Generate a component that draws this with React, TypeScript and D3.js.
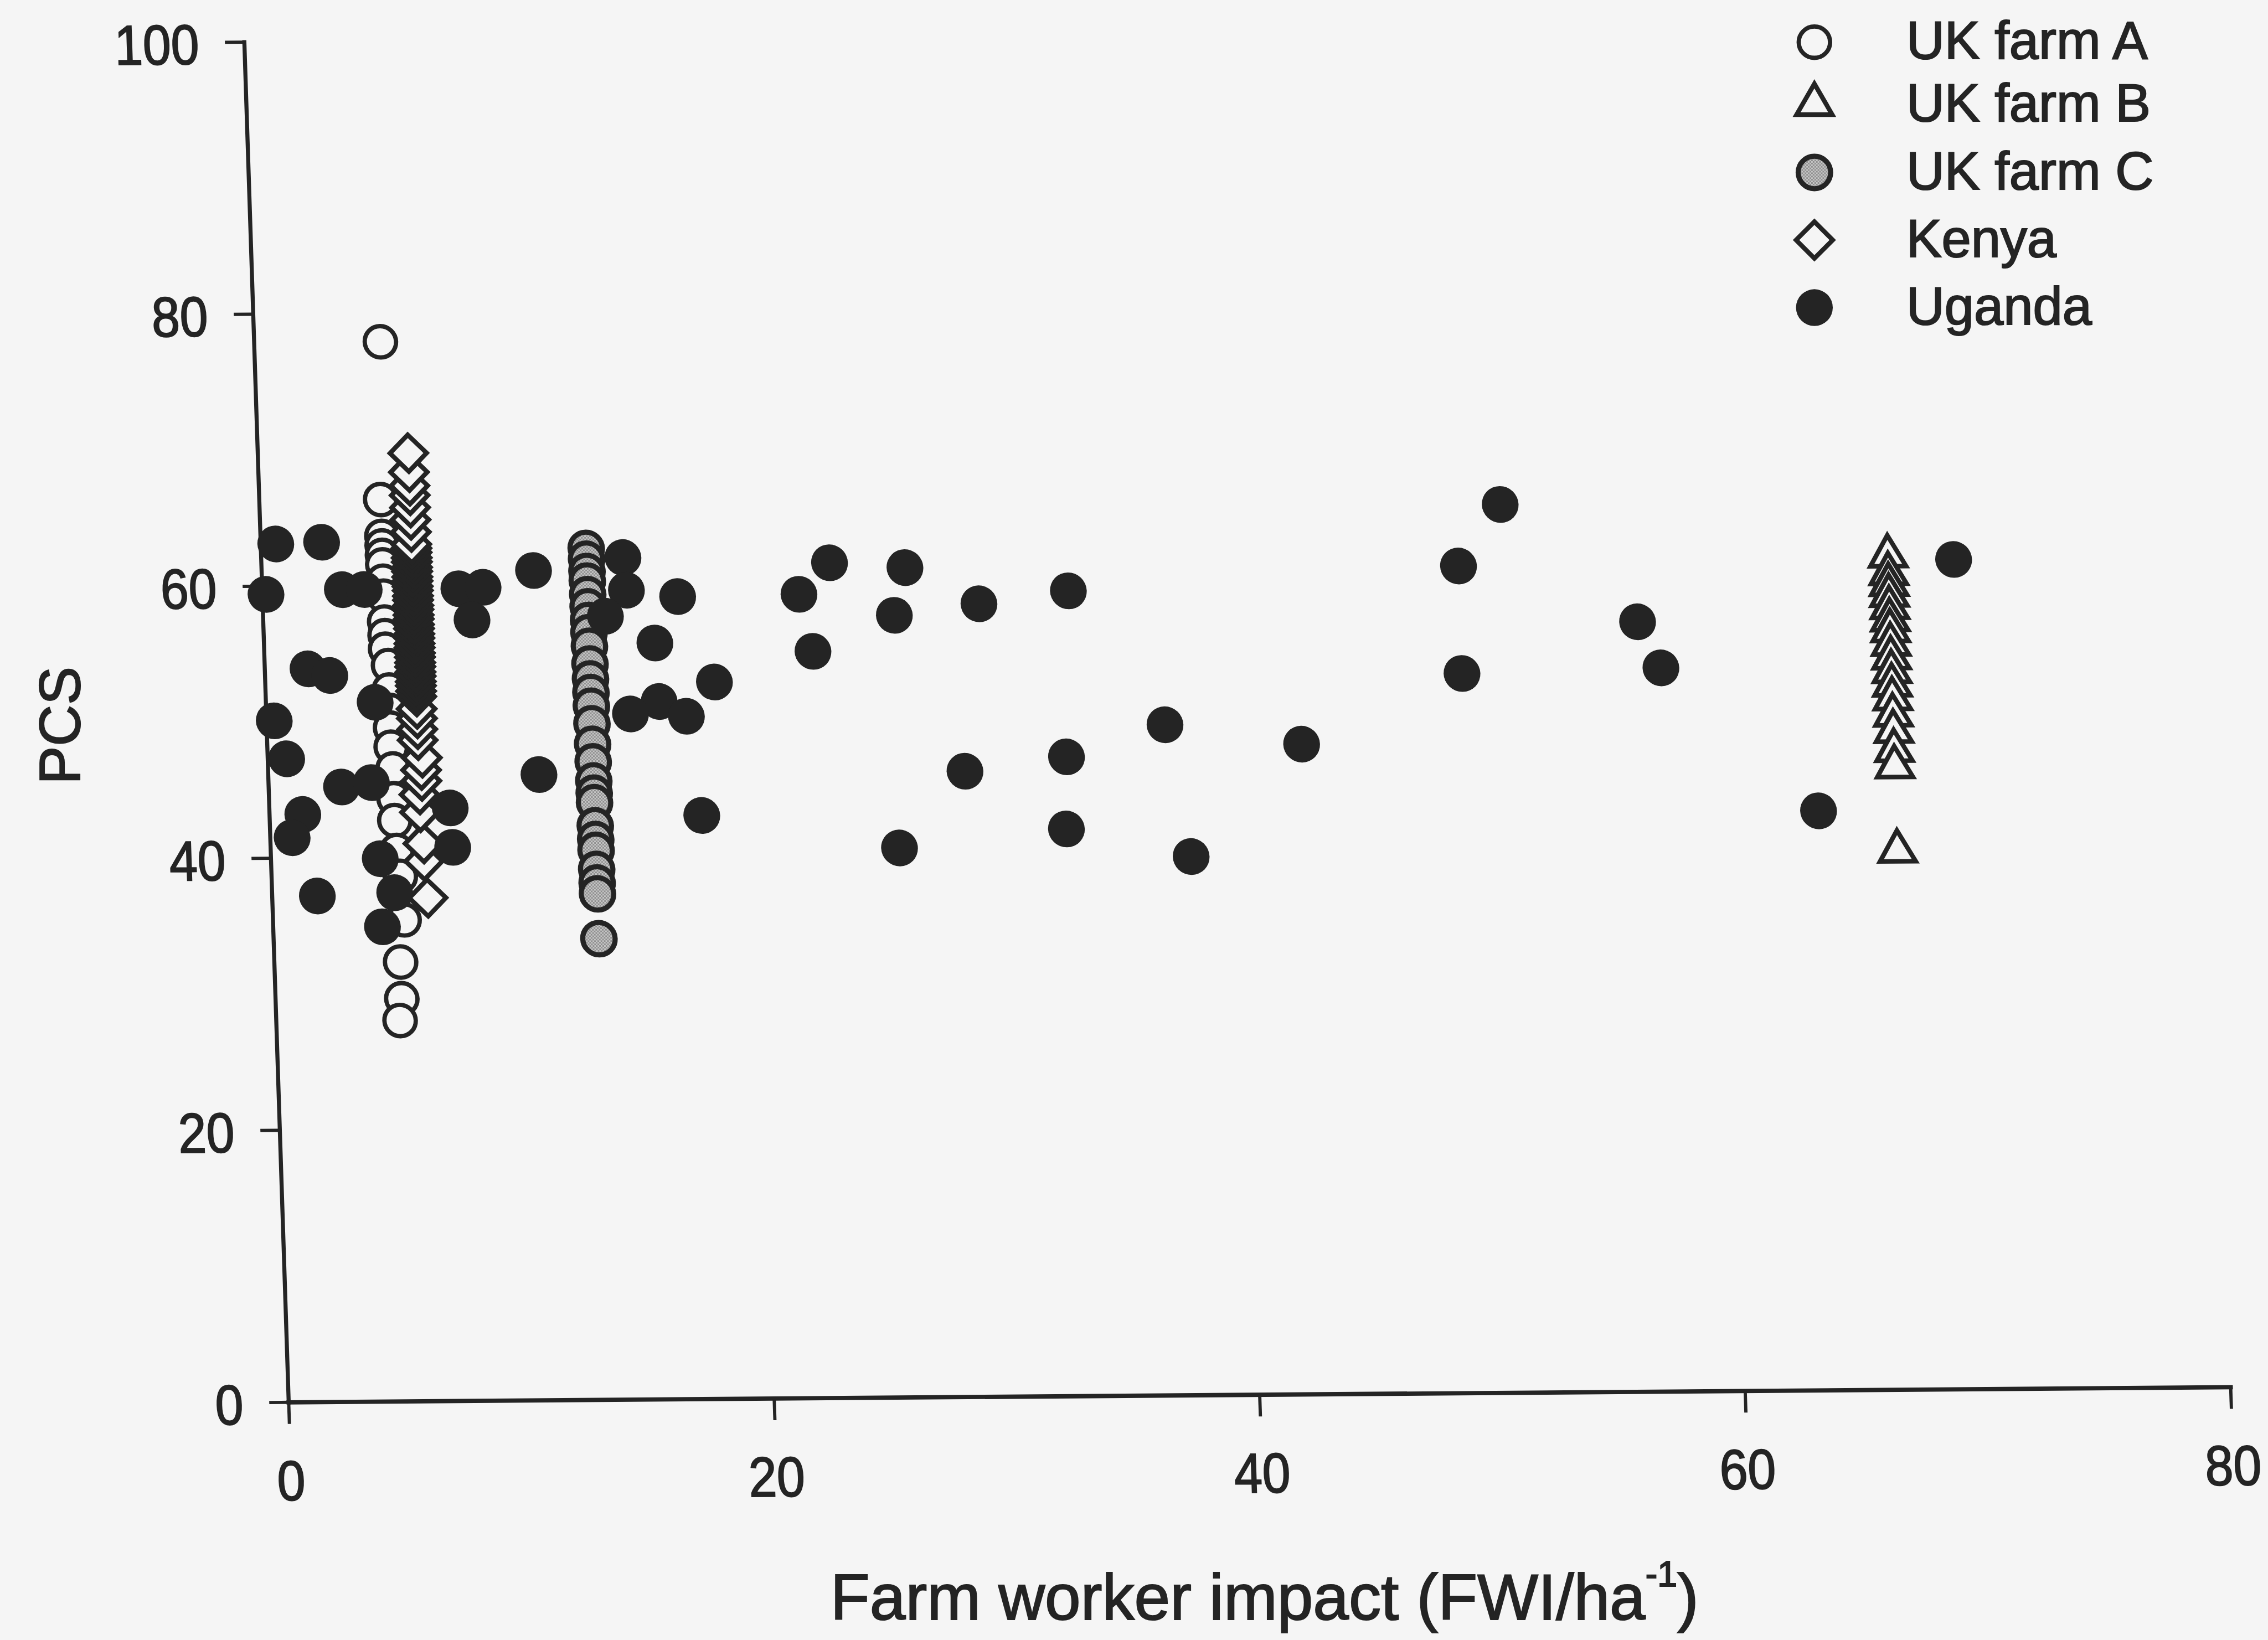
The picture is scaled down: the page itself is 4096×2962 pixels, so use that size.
import React from "react";
import * as d3 from "d3";

// PCS score against farm worker impact, one array per survey group: [FWI/ha, PCS]
const ukFarmA: [number, number][] = [
  [5.2, 77.9], [5.0, 66.3], [5.0, 63.6], [5.0, 62.9], [5.0, 62.2], [5.0, 61.5],
  [5.0, 60.3], [5.0, 59.2], [5.0, 57.3], [5.0, 56.3], [5.0, 55.3], [5.1, 54.1],
  [5.1, 52.3], [5.1, 50.8], [5.1, 49.5], [5.1, 48.1], [5.15, 46.5], [5.15, 44.3],
  [5.15, 42.7], [5.2, 40.5], [5.3, 38.6], [5.4, 35.4], [5.2, 32.3], [5.2, 29.6],
  [5.1, 28.0],
];

const ukFarmB: [number, number][] = [
  [67.0, 61.3], [67.0, 60.0], [67.0, 59.2], [67.0, 58.4], [67.0, 57.5], [67.0, 56.6],
  [67.0, 55.8], [67.0, 54.8], [67.0, 53.8], [67.0, 52.8], [67.0, 51.8], [67.0, 50.8],
  [67.0, 49.6], [67.0, 48.4], [67.0, 47.0], [67.0, 45.8], [67.0, 39.6],
];

const ukFarmC: [number, number][] = [
  [13.4, 62.6], [13.4, 61.8], [13.4, 60.9], [13.4, 60.2], [13.4, 59.2], [13.4, 58.3],
  [13.4, 57.3], [13.4, 56.4], [13.4, 55.4], [13.4, 54.1], [13.4, 53.0], [13.4, 52.0],
  [13.4, 51.0], [13.4, 49.7], [13.4, 48.2], [13.4, 46.9], [13.4, 45.5], [13.4, 44.6],
  [13.4, 43.9], [13.4, 42.2], [13.4, 41.2], [13.4, 40.4], [13.4, 39.0], [13.4, 38.0],
  [13.4, 37.2], [13.4, 33.9],
];

const kenya: [number, number][] = [
  [6.4, 37.0], [6.3, 39.7], [6.3, 41.0], [6.2, 43.3], [6.2, 44.6], [6.3, 45.6],
  [6.3, 46.4], [6.35, 47.3], [6.2, 48.6], [6.2, 49.4], [6.2, 50.2], [6.2, 50.9],
  [6.2, 51.8], [6.2, 52.2], [6.2, 52.6], [6.2, 52.9], [6.2, 53.3], [6.2, 53.6],
  [6.2, 54.0], [6.2, 54.3], [6.2, 54.7], [6.2, 55.0], [6.2, 55.4], [6.2, 55.7],
  [6.2, 56.1], [6.2, 56.4], [6.2, 56.8], [6.2, 57.1], [6.2, 57.5], [6.2, 57.8],
  [6.2, 58.2], [6.2, 58.5], [6.2, 58.9], [6.2, 59.2], [6.2, 59.6], [6.2, 59.9],
  [6.2, 60.3], [6.2, 60.6], [6.2, 61.0], [6.2, 61.3], [6.2, 61.7], [6.2, 62.0],
  [6.2, 62.4], [6.2, 62.7], [6.2, 63.0], [6.2, 63.9], [6.2, 64.8], [6.2, 65.7],
  [6.2, 66.6], [6.2, 67.3], [6.2, 68.3], [6.2, 69.7],
];

const uganda: [number, number][] = [
  [0.15, 59.4], [0.62, 63.1], [2.51, 63.2], [0.32, 50.1], [0.78, 47.3], [1.78, 53.9],
  [2.67, 53.4], [1.37, 43.2], [0.9, 41.5], [1.86, 37.2], [3.0, 45.2], [3.3, 59.7],
  [4.2, 59.7], [4.5, 51.4], [4.24, 45.5], [4.5, 39.9], [5.05, 37.4], [4.5, 34.9],
  [8.1, 59.7], [9.1, 59.8], [8.6, 57.4], [7.45, 43.6], [7.5, 40.7],
  [11.2, 61.0], [11.15, 46.0], [14.9, 61.9], [15.0, 59.5], [14.1, 57.6], [17.1, 59.0],
  [16.1, 55.6], [18.5, 52.7], [16.2, 51.3], [15.0, 50.4], [17.3, 50.2], [17.8, 42.9],
  [23.4, 61.4], [22.1, 59.1], [26.5, 61.0], [26.0, 57.5], [29.5, 58.3], [33.2, 59.2],
  [22.6, 54.9], [37.0, 49.3], [32.9, 47.0], [28.7, 46.0], [42.6, 47.8], [25.9, 40.4],
  [32.8, 41.7], [37.9, 39.6], [51.1, 65.3], [49.3, 60.8], [49.3, 52.9], [56.6, 56.6],
  [57.5, 53.2], [69.7, 61.0], [63.8, 42.6],
];

const legendLabels = ["UK farm A", "UK farm B", "UK farm C", "Kenya", "Uganda"];
const xTicks = [0, 20, 40, 60, 80];
const yTicks = [0, 20, 40, 60, 80, 100];

const INK = "#242424";
const PAPER = "#f5f5f5";
const FONT = "'Liberation Sans', Arial, Helvetica, sans-serif";

const symFilled = d3.symbol(d3.symbolCircle, Math.PI * 34 * 34)() as string;
const symOpen = d3.symbol(d3.symbolCircle, Math.PI * 29 * 29)() as string;
const symGrey = d3.symbol(d3.symbolCircle, Math.PI * 30 * 30)() as string;
const symTriangle = d3.symbol(d3.symbolTriangle, 1880)() as string;
const symDiamond = d3.symbol(d3.symbolSquare, 2300)() as string;

type MarkKind = "A" | "B" | "C" | "K" | "U";

function Mark({ kind, x, y }: { kind: MarkKind; x: number; y: number }) {
  const t = `translate(${x},${y})`;
  switch (kind) {
    case "A":
      return <path d={symOpen} transform={t} fill={PAPER} stroke={INK} strokeWidth={8} />;
    case "B":
      return <path d={symTriangle} transform={t} fill={PAPER} stroke={INK} strokeWidth={8.5} strokeLinejoin="miter" />;
    case "C":
      return <path d={symGrey} transform={t} fill="url(#hatch)" stroke={INK} strokeWidth={9.5} />;
    case "K":
      return <path d={symDiamond} transform={`${t} rotate(45)`} fill={PAPER} stroke={INK} strokeWidth={8.5} />;
    default:
      return <path d={symFilled} transform={t} fill={INK} />;
  }
}

const textInk = { fill: INK, stroke: INK, strokeWidth: 2.2, fontFamily: FONT } as const;

export default function App() {
  // plot frame: origin at (FWI 0, PCS 0); the printed axes lean slightly
  const x = d3.scaleLinear().domain([0, 80]).range([0, 3592]);
  const y = d3.scaleLinear().domain([0, 100]).range([0, -2516]);
  const frame = "matrix(1,-0.0078,0.0326,1,534,2594)";

  const series: { kind: MarkKind; data: [number, number][] }[] = [
    { kind: "C", data: ukFarmC },
    { kind: "A", data: ukFarmA },
    { kind: "K", data: kenya },
    { kind: "B", data: ukFarmB },
    { kind: "U", data: uganda },
  ];

  const legendKinds: MarkKind[] = ["A", "B", "C", "K", "U"];
  const legendY = [78, 193, 319, 444, 569];

  return (
    <svg
      width={4096}
      height={2962}
      style={{ position: "absolute", left: 0, top: 0, display: "block" }}
    >
      <defs>
        <pattern id="hatch" width="6" height="6" patternUnits="userSpaceOnUse">
          <rect width="6" height="6" fill="#c6c6c6" />
          <rect width="3" height="3" fill="#8e8e8e" />
          <rect x="3" y="3" width="3" height="3" fill="#8e8e8e" />
        </pattern>
      </defs>
      <rect x={0} y={0} width={4096} height={2962} fill={PAPER} />
      <g transform={`scale(${4096 / 4195})`}>
        <g transform={frame}>
          {/* axes */}
          <line x1={0} y1={0} x2={0} y2={y(100)} stroke={INK} strokeWidth={7.5} strokeLinecap="square" />
          <line x1={0} y1={0} x2={x(80)} y2={0} stroke={INK} strokeWidth={8} strokeLinecap="square" />
          {yTicks.map((t) => (
            <g key={`y${t}`}>
              <line x1={0} y1={y(t)} x2={-36} y2={y(t)} stroke={INK} strokeWidth={6} />
              <text
                transform={`translate(-84,${y(t) + 40}) scale(0.9,1)`}
                textAnchor="end"
                fontSize={104}
                {...textInk}
              >
                {t}
              </text>
            </g>
          ))}
          {xTicks.map((t) => (
            <g key={`x${t}`}>
              <line x1={x(t)} y1={0} x2={x(t)} y2={40} stroke={INK} strokeWidth={6} />
              <text
                transform={`translate(${x(t)},181) scale(0.9,1)`}
                textAnchor="middle"
                fontSize={104}
                {...textInk}
              >
                {t}
              </text>
            </g>
          ))}
          {/* data */}
          {series.map((s) =>
            s.data.map((d, i) => <Mark key={`${s.kind}${i}`} kind={s.kind} x={x(d[0])} y={y(d[1])} />)
          )}
        </g>

        {/* axis titles */}
        <text x={2339} y={2996} textAnchor="middle" fontSize={119} {...textInk}>
          Farm worker impact (FWI/ha
          <tspan fontSize={66} dy={-62}>-1</tspan>
          <tspan dy={62}>)</tspan>
        </text>
        <text transform="translate(147,1342) rotate(-90)" textAnchor="middle" fontSize={106} {...textInk}>
          PCS
        </text>

        {/* legend */}
        {legendLabels.map((label, i) => (
          <g key={label}>
            <Mark kind={legendKinds[i]} x={3356} y={legendY[i]} />
            <text x={3526} y={legendY[i] + 31} fontSize={98} {...textInk}>
              {label}
            </text>
          </g>
        ))}
      </g>
    </svg>
  );
}
